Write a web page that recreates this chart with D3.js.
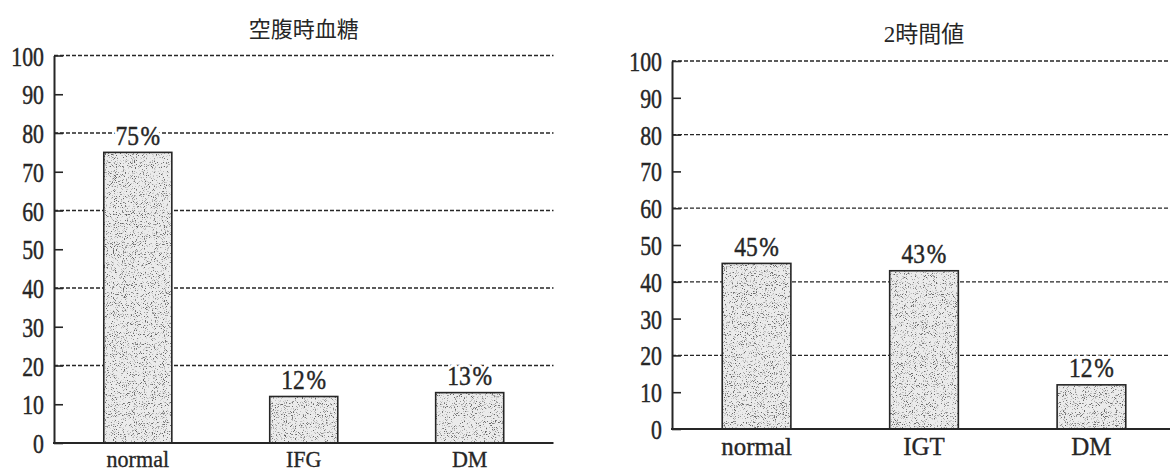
<!DOCTYPE html>
<html lang="ja">
<head>
<meta charset="utf-8">
<script src="https://cdn.jsdelivr.net/npm/d3@7"></script>
<style>
  html, body { margin: 0; padding: 0; background: #fff; }
  svg { display: block; }
</style>
</head>
<body>
<svg id="chart" width="1170" height="473"></svg>
<script>
// ---- data ----
const fastingTitle = "空腹時血糖";
const fastingCategories = ["normal", "IFG", "DM"];
const fastingValues = [75, 12, 13];

const twoHourTitle = "2時間値";
const twoHourCategories = ["normal", "IGT", "DM"];
const twoHourValues = [45, 43, 12];

const yTickValues = [0, 10, 20, 30, 40, 50, 60, 70, 80, 90, 100];
const gridValues = [20, 40, 60, 80, 100];
const yDomain = [0, 100];

// ---- layout of the two panels ----
const panels = [
  {
    title: fastingTitle, categories: fastingCategories, values: fastingValues,
    x0: 54, x1: 553.5, gridEnd: 553.5, yTop: 55.5, yBottom: 443,
    titleY: 36.5, titleSize: 22, catY: 467, catSize: 24, catScale: 0.92
  },
  {
    title: twoHourTitle, categories: twoHourCategories, values: twoHourValues,
    x0: 672, x1: 1176, gridEnd: 1170, yTop: 61, yBottom: 429,
    titleY: 42, titleSize: 23, catY: 455, catSize: 26, catScale: 0.96
  }
];

const ink = "#262626";
const numFont = "'Liberation Serif', 'DejaVu Serif', serif";
const titleFont = "'Liberation Serif', 'Noto Sans CJK JP', serif";

const svg = d3.select("#chart");

// stippled fill for the bars
const defs = svg.append("defs");
const filt = defs.append("filter")
  .attr("id", "stipple")
  .attr("x", 0).attr("y", 0).attr("width", 1).attr("height", 1)
  .attr("color-interpolation-filters", "sRGB");
filt.append("feTurbulence")
  .attr("type", "fractalNoise")
  .attr("baseFrequency", 1.1)
  .attr("numOctaves", 2)
  .attr("seed", 11)
  .attr("result", "noise");
filt.append("feColorMatrix")
  .attr("in", "noise")
  .attr("type", "matrix")
  .attr("values", "0 0 0 0 0.4  0 0 0 0 0.4  0 0 0 0 0.4  -6 0 0 0 2.55")
  .attr("result", "specks");
filt.append("feComposite")
  .attr("in", "specks").attr("in2", "SourceAlpha")
  .attr("operator", "in").attr("result", "clipped");
const merge = filt.append("feMerge");
merge.append("feMergeNode").attr("in", "SourceGraphic");
merge.append("feMergeNode").attr("in", "clipped");

panels.forEach(p => {
  const g = svg.append("g");

  const x = d3.scaleBand()
    .domain(p.categories)
    .range([p.x0, p.x1])
    .paddingInner(0.59)
    .paddingOuter(0.3);

  const y = d3.scaleLinear()
    .domain(yDomain)
    .range([p.yBottom, p.yTop]);

  // dashed gridlines
  g.append("g")
    .selectAll("line")
    .data(gridValues)
    .join("line")
    .attr("x1", p.x0)
    .attr("x2", p.gridEnd)
    .attr("y1", d => y(d))
    .attr("y2", d => y(d))
    .attr("stroke", ink)
    .attr("stroke-width", 1.3)
    .attr("stroke-dasharray", "4,2");

  // bars: stippled fill, then outline
  const bars = g.append("g");
  bars.selectAll("rect.fill")
    .data(p.values)
    .join("rect")
    .attr("class", "fill")
    .attr("x", (d, i) => x(p.categories[i]))
    .attr("y", d => y(d))
    .attr("width", x.bandwidth())
    .attr("height", d => y(0) - y(d))
    .attr("fill", "#ebebeb")
    .attr("filter", "url(#stipple)");
  bars.selectAll("rect.edge")
    .data(p.values)
    .join("rect")
    .attr("class", "edge")
    .attr("x", (d, i) => x(p.categories[i]))
    .attr("y", d => y(d))
    .attr("width", x.bandwidth())
    .attr("height", d => y(0) - y(d))
    .attr("fill", "none")
    .attr("stroke", ink)
    .attr("stroke-width", 1.6);

  // value labels: a white halo underneath keeps the gridlines clear of the text
  const labelPos = (d, i) =>
    `translate(${x(p.categories[i]) + x.bandwidth() / 2},${y(d) - 7.5}) scale(0.84,1)`;
  ["halo", "ink"].forEach(layer => {
    const t = g.append("g")
      .selectAll("text")
      .data(p.values)
      .join("text")
      .attr("transform", labelPos)
      .attr("text-anchor", "middle")
      .attr("font-family", numFont)
      .attr("font-size", 28)
      .attr("fill", layer === "halo" ? "#fff" : ink)
      .attr("stroke", layer === "halo" ? "#fff" : ink)
      .attr("stroke-width", layer === "halo" ? 7 : 0.45)
      .attr("stroke-linejoin", "round");
    t.append("tspan").text(d => d);
    t.append("tspan").attr("dx", 2).text("%");
  });

  // y axis with inward ticks
  const yAxis = d3.axisLeft(y)
    .tickValues(yTickValues)
    .tickSizeInner(-9)
    .tickSizeOuter(0)
    .tickFormat(d3.format("d"));
  const ya = g.append("g")
    .attr("transform", `translate(${p.x0},0)`)
    .call(yAxis);
  ya.select(".domain").attr("stroke", ink).attr("stroke-width", 2);
  ya.selectAll(".tick line").attr("stroke", ink).attr("stroke-width", 1.6);
  ya.selectAll(".tick text")
    .attr("x", 0)
    .attr("dy", "0.34em")
    .attr("transform", "translate(-10,0) scale(0.78,1)")
    .attr("font-family", numFont)
    .attr("font-size", 28)
    .attr("fill", ink)
    .attr("stroke", ink)
    .attr("stroke-width", 0.45);

  // x axis: baseline and category names
  const xAxis = d3.axisBottom(x).tickSize(0).tickPadding(0);
  const xa = g.append("g")
    .attr("transform", `translate(0,${p.yBottom})`)
    .call(xAxis);
  xa.select(".domain").remove();
  xa.selectAll(".tick text")
    .attr("y", 0)
    .attr("dy", 0)
    .attr("transform", `translate(0,${p.catY - p.yBottom}) scale(${p.catScale},1)`)
    .attr("font-family", numFont)
    .attr("font-size", p.catSize)
    .attr("fill", ink)
    .attr("stroke", ink)
    .attr("stroke-width", 0.35);
  g.append("line")
    .attr("x1", p.x0 - 1)
    .attr("x2", p.gridEnd)
    .attr("y1", p.yBottom)
    .attr("y2", p.yBottom)
    .attr("stroke", ink)
    .attr("stroke-width", 2.2);

  // panel title
  g.append("text")
    .attr("x", (p.x0 + p.x1) / 2)
    .attr("y", p.titleY)
    .attr("text-anchor", "middle")
    .attr("font-family", titleFont)
    .attr("font-size", p.titleSize)
    .attr("fill", ink)
    .text(p.title);
});
</script>
</body>
</html>
